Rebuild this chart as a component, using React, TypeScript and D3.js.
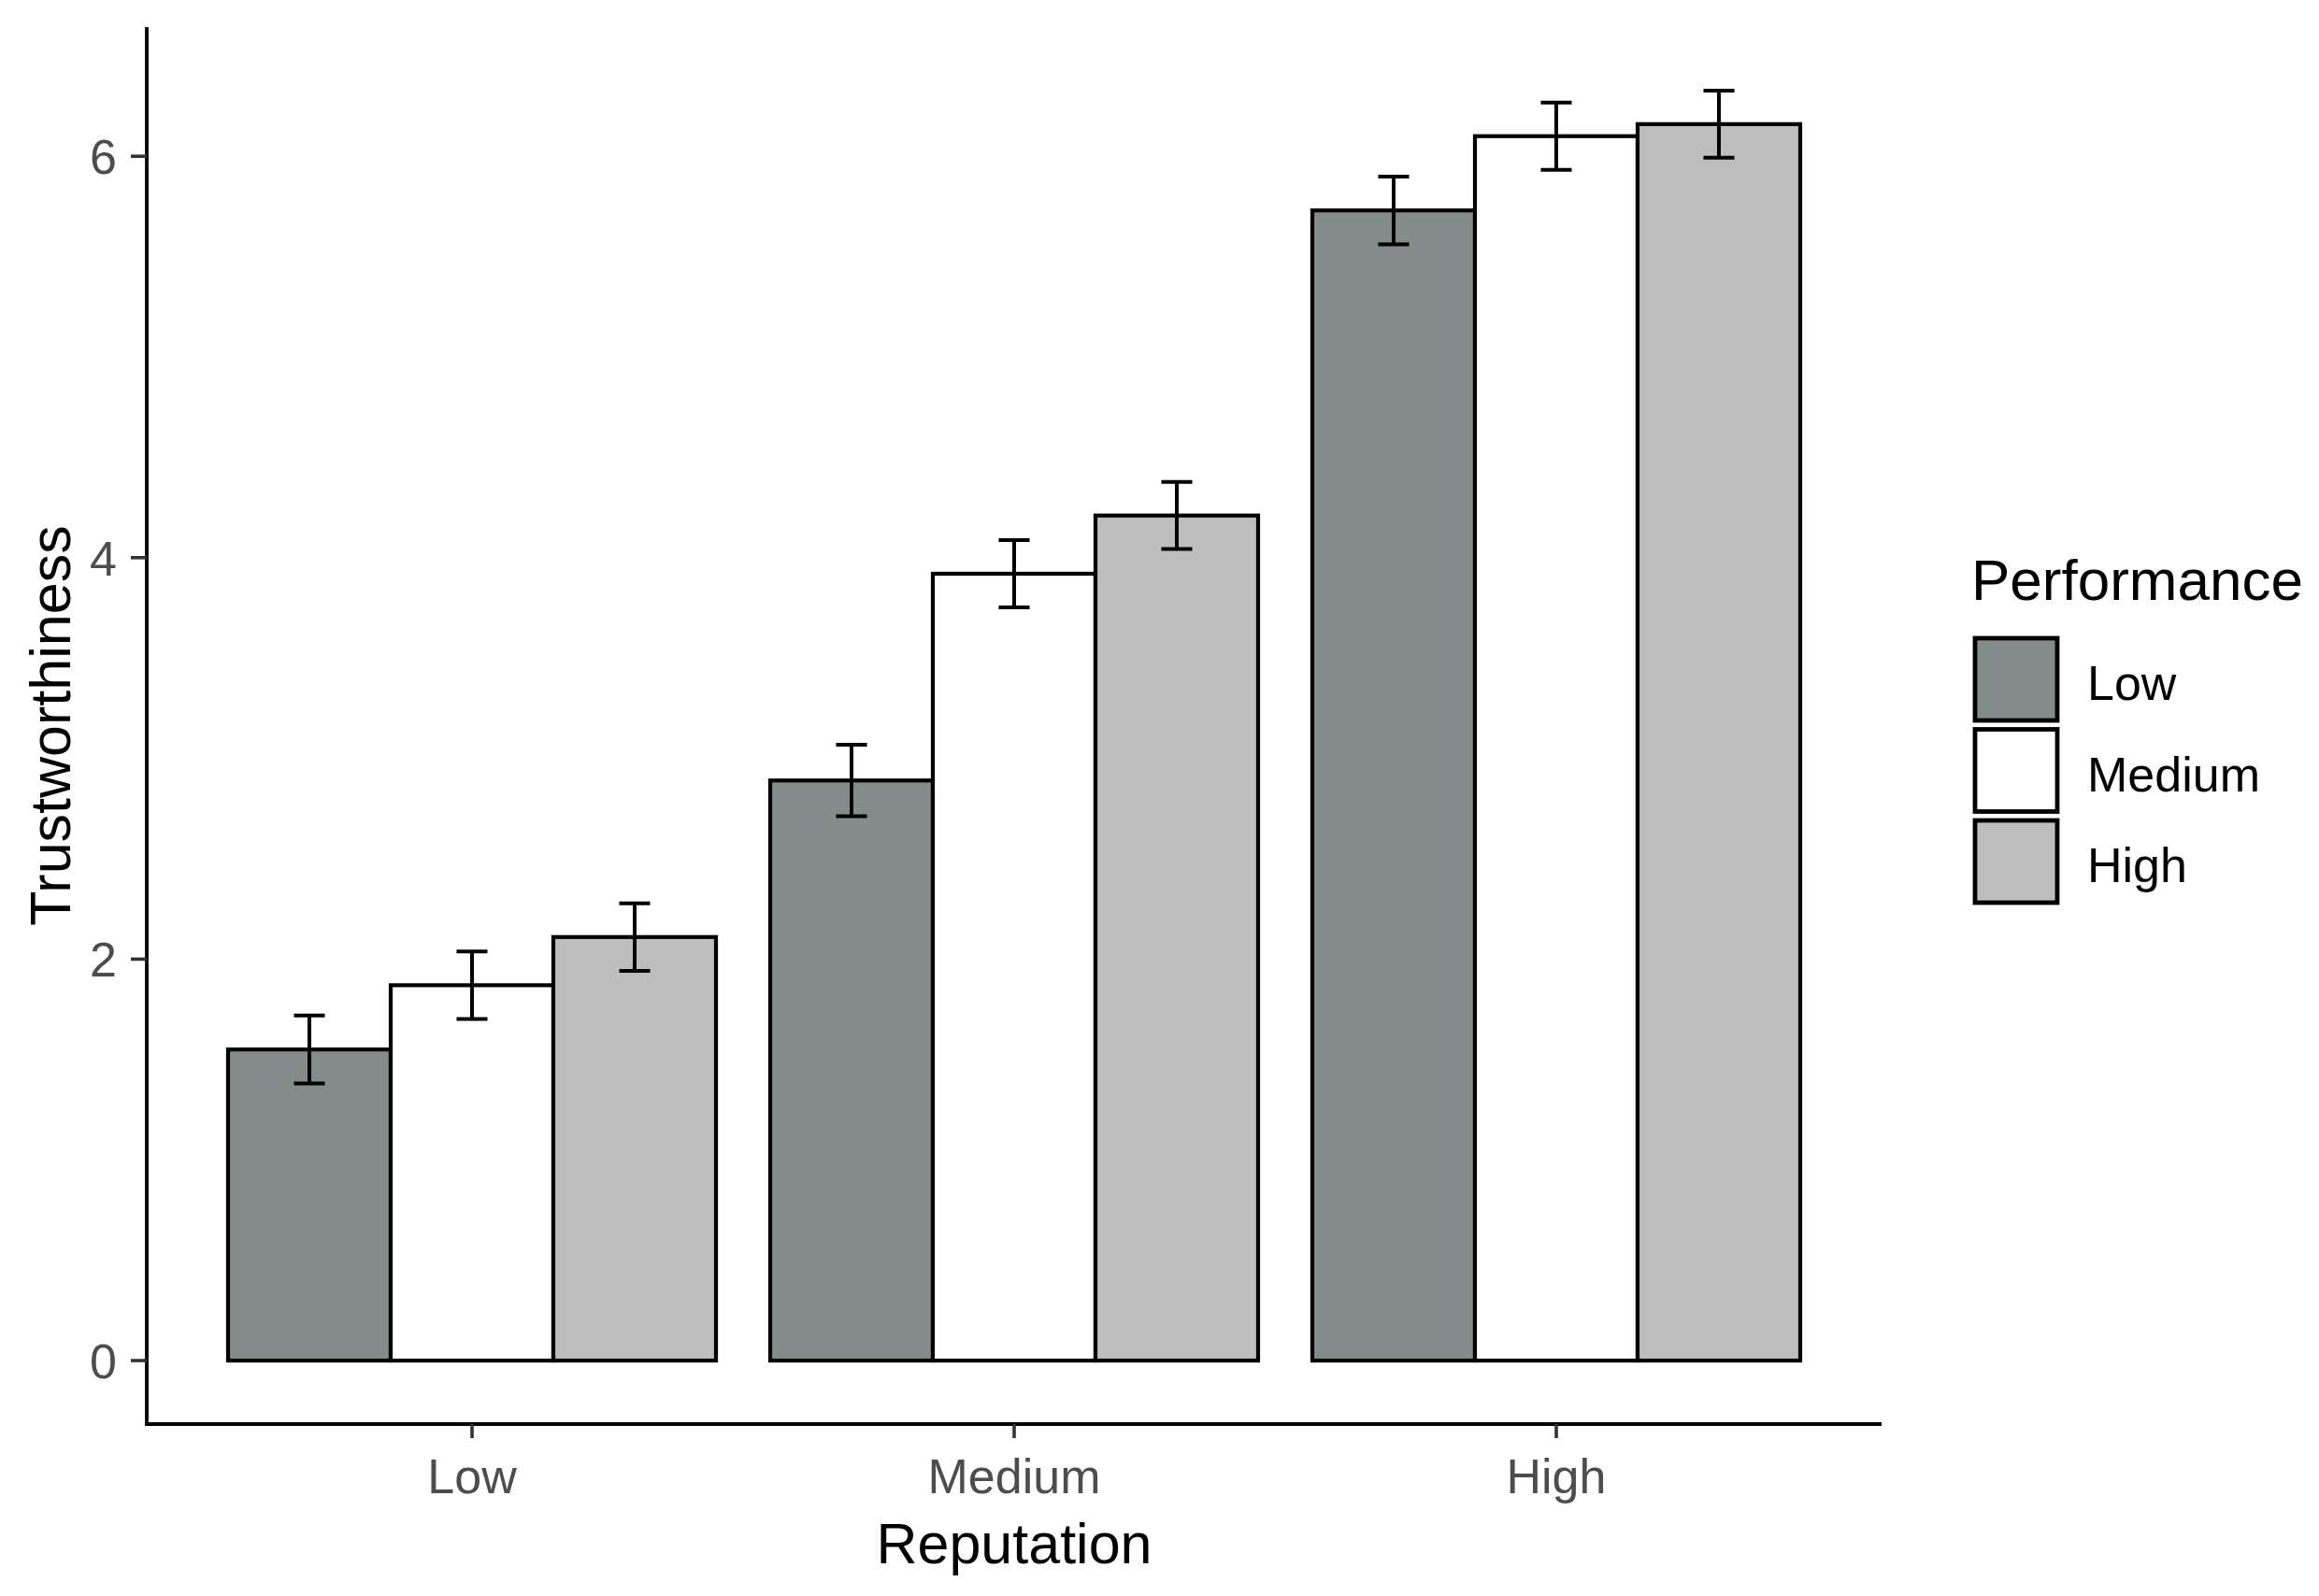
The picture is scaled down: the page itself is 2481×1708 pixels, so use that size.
import * as d3 from 'd3'

const reputation = ['Low', 'Medium', 'High']
const performance = ['Low', 'Medium', 'High']
const perfColors = ['#838c8a', '#ffffff', '#bebebe']

// mean trustworthiness per reputation group, one array per performance level
const lowPerf = [1.55, 2.89, 5.73]
const mediumPerf = [1.87, 3.92, 6.1]
const highPerf = [2.11, 4.21, 6.16]
// standard errors, same layout
const lowPerfSe = [0.169, 0.178, 0.169]
const mediumPerfSe = [0.168, 0.168, 0.168]
const highPerfSe = [0.168, 0.167, 0.167]

const yTicks = [0, 2, 4, 6]

const W = 2481
const H = 1708
const FONT = '"Liberation Sans", Arial, sans-serif'

export default function App() {
  const panel = { left: 157, right: 2013, top: 29, bottom: 1524 }

  const means = [lowPerf, mediumPerf, highPerf]
  const ses = [lowPerfSe, mediumPerfSe, highPerfSe]
  const rows = reputation.flatMap((rep, i) =>
    performance.map((perf, j) => ({ rep, perf, j, mean: means[j][i], se: ses[j][i] })),
  )

  const ymax = d3.max(rows, r => r.mean + r.se) ?? 1
  const y = d3.scaleLinear().domain([-0.05 * ymax, 1.05 * ymax]).range([panel.bottom, panel.top])
  const x = d3.scalePoint<string>().domain(reputation).range([panel.left, panel.right]).padding(0.6)
  const step = x.step()
  const inner = d3.scaleBand<string>().domain(performance).range([-0.45 * step, 0.45 * step]).padding(0)
  const bw = inner.bandwidth()
  const cap = bw * 0.19

  const legendX = 2113
  const legendY = 683
  const key = 88
  const keyStep = 97.5

  return (
    <div style={{ position: 'absolute', left: 0, top: 0 }}>
      <svg width={W} height={H} style={{ display: 'block', background: '#fff' }} fontFamily={FONT}>
        {/* bars */}
        {rows.map(r => (
          <rect
            key={`b-${r.rep}-${r.perf}`}
            x={(x(r.rep) ?? 0) + (inner(r.perf) ?? 0)}
            y={y(r.mean)}
            width={bw}
            height={y(0) - y(r.mean)}
            fill={perfColors[r.j]}
            stroke="#000"
            strokeWidth={4.2}
          />
        ))}
        {/* error bars */}
        {rows.map(r => {
          const cx = (x(r.rep) ?? 0) + (inner(r.perf) ?? 0) + bw / 2
          const y1 = y(r.mean + r.se)
          const y2 = y(r.mean - r.se)
          return (
            <g key={`e-${r.rep}-${r.perf}`} stroke="#000" strokeWidth={4}>
              <line x1={cx} x2={cx} y1={y1} y2={y2} />
              <line x1={cx - cap / 2} x2={cx + cap / 2} y1={y1} y2={y1} />
              <line x1={cx - cap / 2} x2={cx + cap / 2} y1={y2} y2={y2} />
            </g>
          )
        })}

        {/* y axis */}
        <line x1={panel.left} x2={panel.left} y1={panel.top} y2={panel.bottom + 2} stroke="#000" strokeWidth={3.8} />
        {yTicks.map(t => (
          <g key={`yt-${t}`}>
            <line x1={panel.left - 17} x2={panel.left} y1={y(t)} y2={y(t)} stroke="#333" strokeWidth={3.6} />
            <text x={125} y={y(t)} dy="0.36em" textAnchor="end" fontSize={52} fill="#4d4d4d">
              {t}
            </text>
          </g>
        ))}

        {/* x axis */}
        <line x1={panel.left - 2} x2={panel.right} y1={panel.bottom} y2={panel.bottom} stroke="#000" strokeWidth={3.8} />
        {reputation.map(rep => (
          <g key={`xt-${rep}`}>
            <line x1={x(rep)} x2={x(rep)} y1={panel.bottom} y2={panel.bottom + 15} stroke="#333" strokeWidth={3.6} />
            <text x={x(rep)} y={1598} textAnchor="middle" fontSize={52} fill="#4d4d4d">
              {rep}
            </text>
          </g>
        ))}

        {/* axis titles */}
        <text x={(panel.left + panel.right) / 2} y={1673} textAnchor="middle" fontSize={61} fill="#000">
          Reputation
        </text>
        <text
          transform={`translate(75,${(panel.top + panel.bottom) / 2}) rotate(-90)`}
          textAnchor="middle"
          fontSize={61}
          fill="#000"
        >
          Trustworthiness
        </text>

        {/* legend */}
        <text x={2109} y={642} fontSize={62} fill="#000">
          Performance
        </text>
        {performance.map((perf, j) => (
          <g key={`lg-${perf}`}>
            <rect
              x={legendX}
              y={legendY + j * keyStep}
              width={key}
              height={key}
              fill={perfColors[j]}
              stroke="#000"
              strokeWidth={4.8}
            />
            <text x={2233} y={legendY + j * keyStep + key / 2 + 22} fontSize={52} fill="#000">
              {perf}
            </text>
          </g>
        ))}
      </svg>
    </div>
  )
}
